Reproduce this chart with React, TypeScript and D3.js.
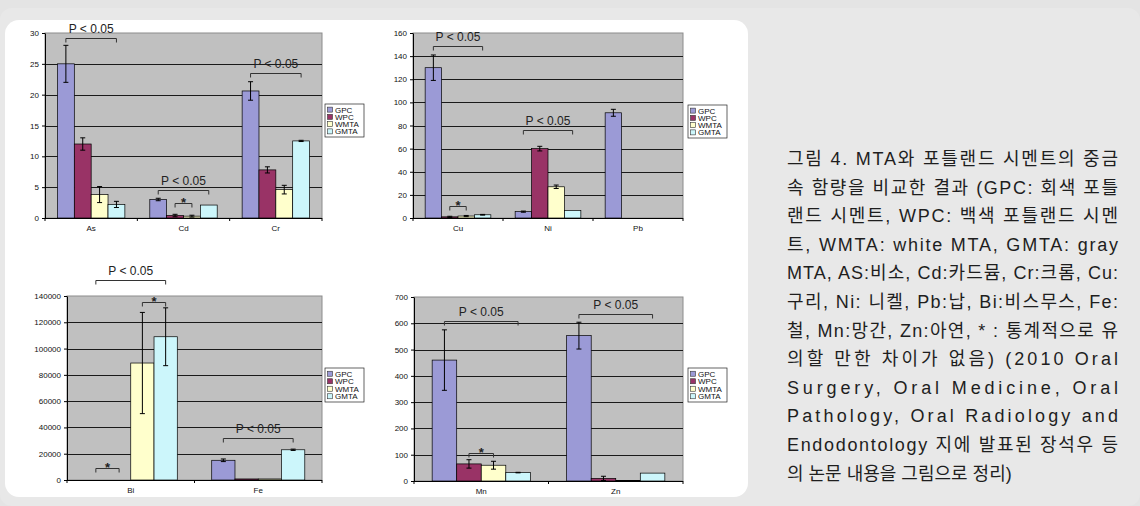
import React, { useEffect, useRef } from 'react';
import * as d3 from 'd3';

const seriesNames = ['GPC', 'WPC', 'WMTA', 'GMTA'];
const seriesColors = ['#9b9ad6', '#993366', '#ffffcc', '#ccf6fb'];

// As / Cd / Cr
const cats1 = ['As', 'Cd', 'Cr'];
const values1 = [[25, 12, 3.8, 2.2], [3.0, 0.4, 0.3, 2.1], [20.6, 7.8, 4.6, 12.5]];
const errors1 = [[3, 1, 1.3, 0.5], [0.2, 0.2, 0.15, 0], [1.5, 0.5, 0.7, 0.1]];
const ticks1 = [0, 5, 10, 15, 20, 25, 30];
const marks1 = [
  { cat: 0, from: 0, to: 3, at: 29.2, label: 'P < 0.05' },
  { cat: 1, from: 0, to: 3, at: 4.5, label: 'P < 0.05' },
  { cat: 1, from: 1, to: 2, at: 2.4, label: '*' },
  { cat: 2, from: 0, to: 3, at: 23.5, label: 'P < 0.05' },
];

// Cu / Ni / Pb
const cats2 = ['Cu', 'Ni', 'Pb'];
const values2 = [[130, 1, 1.7, 2.8], [5.5, 60, 27, 6.5], [91, 0, 0, 0]];
const errors2 = [[11, 0.5, 0.5, 0.3], [0.5, 2, 1.5, 0], [3, 0, 0, 0]];
const ticks2 = [0, 20, 40, 60, 80, 100, 120, 140, 160];
const marks2 = [
  { cat: 0, from: 0, to: 3, at: 148.8, label: 'P < 0.05' },
  { cat: 0, from: 1, to: 2, at: 10.8, label: '*' },
  { cat: 1, from: 0, to: 3, at: 76, label: 'P < 0.05' },
];

// Bi / Fe
const cats3 = ['Bi', 'Fe'];
const values3 = [[0, 0, 89000, 109000], [15000, 800, 800, 23000]];
const errors3 = [[0, 0, 38500, 22000], [1000, 0, 0, 500]];
const ticks3 = [0, 20000, 40000, 60000, 80000, 100000, 120000, 140000];
const marks3 = [
  { cat: 0, from: 0, to: 3, at: 152000, label: 'P < 0.05' },
  { cat: 0, from: 2, to: 3, at: 135500, label: '*' },
  { cat: 0, from: 0, to: 1, at: 9000, label: '*' },
  { cat: 1, from: 0, to: 3, at: 31800, label: 'P < 0.05' },
];

// Mn / Zn
const cats4 = ['Mn', 'Zn'];
const values4 = [[460, 65, 60, 32], [553, 10, 2, 30]];
const errors4 = [[115, 16, 15, 1], [51, 8, 0, 0]];
const ticks4 = [0, 100, 200, 300, 400, 500, 600, 700];
const marks4 = [
  { cat: 0, from: 0, to: 3, at: 609, label: 'P < 0.05' },
  { cat: 0, from: 1, to: 2, at: 106, label: '*' },
  { cat: 1, from: 0, to: 3, at: 635, label: 'P < 0.05' },
];

const captionLines = [
  '그림 4. MTA와 포틀랜드 시멘트의 중금',
  '속 함량을 비교한 결과 (GPC: 회색 포틀',
  '랜드 시멘트, WPC: 백색 포틀랜드 시멘',
  '트, WMTA: white MTA, GMTA: gray',
  'MTA, AS:비소, Cd:카드뮴, Cr:크롬, Cu:',
  '구리, Ni: 니켈, Pb:납, Bi:비스무스, Fe:',
  '철, Mn:망간, Zn:아연, * : 통계적으로 유',
  '의할 만한 차이가 없음) (2010 Oral',
  'Surgery, Oral Medicine, Oral',
  'Pathology, Oral Radiology and',
  'Endodontology 지에 발표된 장석우 등',
  '의 논문 내용을 그림으로 정리)',
];

const FONT = "'Liberation Sans', Arial, sans-serif";

const BarPanel = ({ cats, values, errors, ticks, marks, box, legend }) => {
  const gRef = useRef(null);

  useEffect(() => {
    const g = d3.select(gRef.current);
    g.selectAll('*').remove();
    const { left, right, top, bottom } = box;

    const x = d3.scaleBand().domain(cats).range([left, right]);
    const cw = x.bandwidth();
    const xs = d3.scaleBand().domain(seriesNames).range([cw * 0.135, cw * 0.865]);
    const bw = xs.bandwidth();
    const y = d3.scaleLinear().domain([0, d3.max(ticks)]).range([bottom, top]);
    const barX = (ci, si) => x(cats[ci]) + xs(seriesNames[si]);

    // plot area
    g.append('rect')
      .attr('x', left).attr('y', top)
      .attr('width', right - left).attr('height', bottom - top)
      .attr('fill', '#c0c0c0').attr('stroke', '#8c8c8c');

    g.append('g')
      .selectAll('line')
      .data(ticks.slice(1, -1))
      .join('line')
      .attr('x1', left).attr('x2', right)
      .attr('y1', d => Math.round(y(d)) + 0.5).attr('y2', d => Math.round(y(d)) + 0.5)
      .attr('stroke', '#1a1a1a');

    // y axis
    const yAxis = g.append('g')
      .attr('transform', `translate(${left},0)`)
      .call(d3.axisLeft(y).tickValues(ticks).tickSize(3).tickSizeOuter(0).tickFormat(d3.format('d')));
    yAxis.select('.domain').attr('stroke', '#000');
    yAxis.selectAll('line').attr('stroke', '#000');
    yAxis.selectAll('text')
      .attr('font-family', FONT).attr('font-size', 8).attr('fill', '#111').attr('x', -6);

    // x axis
    g.append('line')
      .attr('x1', left).attr('x2', right).attr('y1', bottom + 0.5).attr('y2', bottom + 0.5)
      .attr('stroke', '#000');
    g.append('g')
      .selectAll('line')
      .data(d3.range(cats.length + 1))
      .join('line')
      .attr('x1', i => left + i * cw).attr('x2', i => left + i * cw)
      .attr('y1', bottom).attr('y2', bottom + 3)
      .attr('stroke', '#000');
    g.append('g')
      .selectAll('text')
      .data(cats)
      .join('text')
      .attr('x', d => x(d) + cw / 2).attr('y', bottom + 13)
      .attr('text-anchor', 'middle')
      .attr('font-family', FONT).attr('font-size', 8).attr('fill', '#111')
      .text(d => d);

    // bars
    const cells = values.flatMap((row, ci) => row.map((v, si) => ({ ci, si, v, e: errors[ci][si] })));
    g.append('g')
      .selectAll('rect')
      .data(cells.filter(d => d.v > 0))
      .join('rect')
      .attr('x', d => barX(d.ci, d.si)).attr('width', bw)
      .attr('y', d => y(d.v)).attr('height', d => bottom - y(d.v))
      .attr('fill', d => seriesColors[d.si])
      .attr('stroke', '#000').attr('stroke-width', 0.7);

    // error bars
    const eb = g.append('g').attr('stroke', '#000').attr('stroke-width', 1)
      .selectAll('path')
      .data(cells.filter(d => d.e > 0))
      .join('path')
      .attr('fill', 'none')
      .attr('d', d => {
        const cx = barX(d.ci, d.si) + bw / 2;
        const y0 = y(d.v - d.e), y1 = y(d.v + d.e);
        return `M${cx - 2.5},${y0}H${cx + 2.5}M${cx},${y0}V${y1}M${cx - 2.5},${y1}H${cx + 2.5}`;
      });

    // significance brackets
    marks.forEach(m => {
      const xa = barX(m.cat, m.from) + bw / 2;
      const xb = barX(m.cat, m.to) + bw / 2;
      const yb = Math.round(y(m.at)) + 0.5;
      g.append('path')
        .attr('d', `M${xa},${yb + 4}V${yb}H${xb}V${yb + 4}`)
        .attr('fill', 'none').attr('stroke', '#333').attr('stroke-width', 1);
      const star = m.label === '*';
      g.append('text')
        .attr('x', (xa + xb) / 2)
        .attr('y', star ? yb + 3 : yb - 6)
        .attr('text-anchor', 'middle')
        .attr('font-family', FONT)
        .attr('font-size', star ? 13 : 12)
        .attr('font-weight', star ? 'bold' : 'normal')
        .attr('fill', '#222')
        .text(m.label);
    });

    // legend
    const lg = g.append('g').attr('transform', `translate(${legend.x},${legend.y})`);
    lg.append('rect')
      .attr('width', legend.w).attr('height', legend.h)
      .attr('fill', '#fff').attr('stroke', '#222').attr('stroke-width', 0.7);
    const step = (legend.h - 4) / 4;
    seriesNames.forEach((name, i) => {
      const cy = 2 + step * (i + 0.5);
      lg.append('rect')
        .attr('x', 2.5).attr('y', cy - 2.5).attr('width', 5).attr('height', 5)
        .attr('fill', seriesColors[i]).attr('stroke', '#333').attr('stroke-width', 0.6);
      lg.append('text')
        .attr('x', 10).attr('y', cy + 3)
        .attr('font-family', FONT).attr('font-size', 8).attr('fill', '#111')
        .text(name);
    });
  }, [cats, values, errors, ticks, marks, box, legend]);

  return <g ref={gRef} />;
};

const App = () => {
  const capLeft = 787;
  const capRight = 1118;
  return (
    <div style={{ position: 'absolute', left: 0, top: 0 }}>
      <svg width={1140} height={506} style={{ display: 'block' }}>
        <rect width={1140} height={506} fill="#e4e4e4" />
        <rect x={0} y={8} width={1140} height={498} rx={12} fill="#e8e8e8" />
        <rect x={5} y={20} width={743} height={477} rx={14} fill="#ffffff" />
        <BarPanel cats={cats1} values={values1} errors={errors1} ticks={ticks1} marks={marks1}
          box={{ left: 45, right: 322, top: 33, bottom: 218 }}
          legend={{ x: 325, y: 104, w: 39, h: 33 }} />
        <BarPanel cats={cats2} values={values2} errors={errors2} ticks={ticks2} marks={marks2}
          box={{ left: 413, right: 683, top: 33, bottom: 218 }}
          legend={{ x: 688, y: 105, w: 39, h: 33 }} />
        <BarPanel cats={cats3} values={values3} errors={errors3} ticks={ticks3} marks={marks3}
          box={{ left: 67, right: 322, top: 296, bottom: 480 }}
          legend={{ x: 325, y: 368, w: 39, h: 34 }} />
        <BarPanel cats={cats4} values={values4} errors={errors4} ticks={ticks4} marks={marks4}
          box={{ left: 414, right: 683, top: 297, bottom: 481 }}
          legend={{ x: 688, y: 368, w: 39, h: 34 }} />
        <g fontFamily="'Liberation Sans', 'Noto Sans CJK KR', sans-serif" fontSize={18} fill="#1e1e1e">
          {captionLines.map((line, i) => {
            const last = i === captionLines.length - 1;
            return (
              <text key={i} x={capLeft} y={165 + i * 28.6}
                textLength={last ? undefined : capRight - capLeft}
                lengthAdjust={last ? undefined : 'spacing'}>
                {line}
              </text>
            );
          })}
        </g>
      </svg>
    </div>
  );
};

export default App;
